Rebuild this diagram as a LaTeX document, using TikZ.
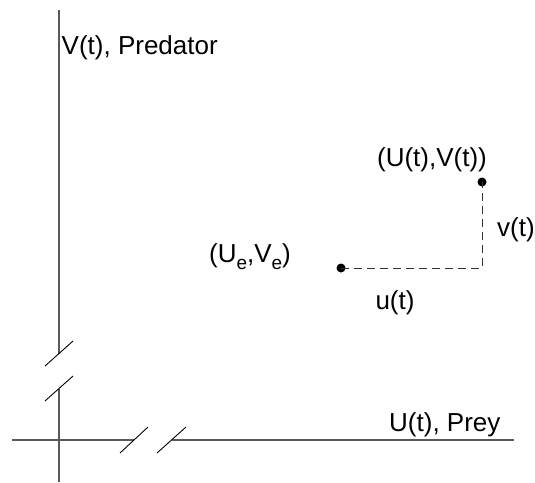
\documentclass[tikz,border=0pt]{standalone}
\usepackage{fontspec}
\setmainfont{Liberation Sans}
\begin{document}
\begin{tikzpicture}[x=1pt,y=-1pt,
  axis/.style={line width=1.3pt,draw=black!65},
  brk/.style={line width=0.9pt,draw=black},
  dsh/.style={line width=0.9pt,draw=black!80,dash pattern=on 8pt off 5pt},
  dot/.style={circle,fill=black,inner sep=0pt,minimum size=9pt},
  lbl/.style={inner sep=0pt,font=\fontsize{26}{30}\selectfont}]
\useasboundingbox (0,0) rectangle (535,482);
% vertical axis
\coordinate (vtop) at (59,10);
\coordinate (vb1) at (59,353.5);
\coordinate (vb2) at (59,388.5);
\coordinate (vbot) at (59,482);
\draw[axis] (vtop) -- (vb1);
\draw[axis] (vb2) -- (vbot);
\coordinate (s1a) at (45,366); \coordinate (s1b) at (73,341);
\coordinate (s2a) at (45,401); \coordinate (s2b) at (73,376);
\draw[brk] (s1a) -- (s1b);
\draw[brk] (s2a) -- (s2b);
% horizontal axis
\coordinate (hl) at (12,440);
\coordinate (hb1) at (133.5,440);
\coordinate (hb2) at (171.5,440);
\coordinate (hr) at (514,440);
\draw[axis] (hl) -- (hb1);
\draw[axis] (hb2) -- (hr);
\coordinate (s3a) at (120,453); \coordinate (s3b) at (148,427);
\coordinate (s4a) at (157,453); \coordinate (s4b) at (186,427);
\draw[brk] (s3a) -- (s3b);
\draw[brk] (s4a) -- (s4b);
% points
\node[dot] (pe) at (341,268) {};
\node[dot] (pt) at (482,182) {};
\coordinate (corner) at (482,268);
\draw[dsh] (pe.center) -- (corner) -- (pt.center);
% labels
\node[lbl,anchor=west] (vlab) at (61.5,48) {V(t), Predator};
\node[lbl,anchor=west] (ulab) at (389,425) {U(t), Prey};
\node[lbl] (ptlab) at (432,160) {(U(t),V(t))};
\node[lbl] (vt) at (516,230) {v(t)};
\node[lbl] (ut) at (395,303) {u(t)};
\node[lbl] (pelab) at (250,257) {(U\raisebox{-7pt}{\fontsize{19}{22}\selectfont e},V\raisebox{-7pt}{\fontsize{19}{22}\selectfont e})};
\end{tikzpicture}
\end{document}
